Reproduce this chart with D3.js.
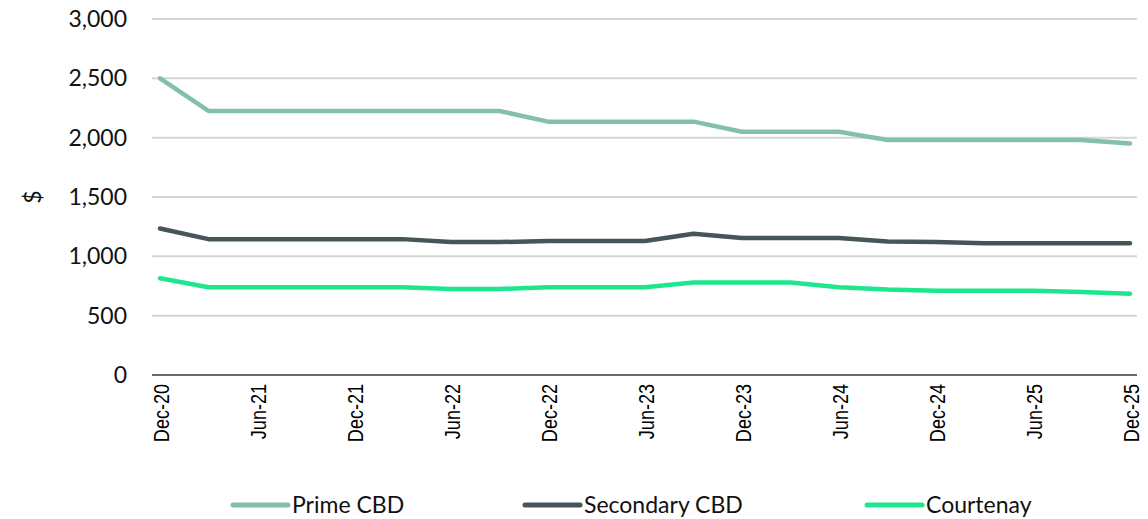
<!DOCTYPE html>
<html>
<head>
<meta charset="utf-8">
<script src="https://cdn.jsdelivr.net/npm/d3@7"></script>
<style>
  html, body { margin: 0; padding: 0; background: #ffffff; }
  svg { display: block; }
</style>
</head>
<body>
<svg id="chart" width="1148" height="519"></svg>
<script>
// Quarterly rents, Dec-20 to Dec-25
const quarters = ["Dec-20","Mar-21","Jun-21","Sep-21","Dec-21","Mar-22","Jun-22","Sep-22",
  "Dec-22","Mar-23","Jun-23","Sep-23","Dec-23","Mar-24","Jun-24","Sep-24",
  "Dec-24","Mar-25","Jun-25","Sep-25","Dec-25"];

const primeCBD = [2500,2225,2225,2225,2225,2225,2225,2225,2135,2135,2135,2135,
  2050,2050,2050,1980,1980,1980,1980,1980,1950];
const secondaryCBD = [1235,1145,1145,1145,1145,1145,1120,1120,1130,1130,1130,1190,
  1155,1155,1155,1125,1120,1110,1110,1110,1110];
const courtenay = [815,740,740,740,740,740,725,725,740,740,740,780,
  780,780,740,720,710,710,710,700,685];

const seriesNames = ["Prime CBD","Secondary CBD","Courtenay"];
const seriesColors = ["#84bfac","#45555a","#1ee68e"];
const yTicks = [0,500,1000,1500,2000,2500,3000];
const xTickLabels = ["Dec-20","Jun-21","Dec-21","Jun-22","Dec-22","Jun-23",
  "Dec-23","Jun-24","Dec-24","Jun-25","Dec-25"];
const yTitle = "$";

const series = [primeCBD, secondaryCBD, courtenay].map((v, i) => ({
  name: seriesNames[i], color: seriesColors[i], values: v
}));

const svg = d3.select("#chart");
const plot = { left: 152, right: 1137, top: 19, bottom: 375 };

const x = d3.scalePoint().domain(quarters).range([160, 1130]);
const y = d3.scaleLinear().domain([0, 3000]).range([plot.bottom, plot.top]);

// gridlines
svg.append("g")
  .selectAll("line")
  .data(yTicks.filter(d => d > 0))
  .join("line")
  .attr("x1", plot.left).attr("x2", plot.right)
  .attr("y1", d => y(d)).attr("y2", d => y(d))
  .attr("stroke", "#d4d7d9").attr("stroke-width", 2);

// y axis labels
const yAxis = svg.append("g")
  .attr("transform", `translate(${plot.left},0)`)
  .call(d3.axisLeft(y).tickValues(yTicks).tickFormat(d3.format(",")).tickSize(0).tickPadding(25));
yAxis.select(".domain").remove();
yAxis.selectAll("text")
  .attr("font-family", "Lato, 'Open Sans', sans-serif")
  .attr("font-size", 23)
  .attr("fill", "#111");

svg.append("text")
  .attr("transform", `translate(41,${y(1500)}) rotate(-90)`)
  .attr("text-anchor", "middle")
  .attr("font-family", "Lato, 'Open Sans', sans-serif")
  .attr("font-size", 23)
  .attr("fill", "#111")
  .text(yTitle);

// x axis
const xAxis = svg.append("g")
  .attr("transform", `translate(0,${plot.bottom})`)
  .call(d3.axisBottom(x).tickValues(xTickLabels).tickSize(0).tickPadding(0));
xAxis.select(".domain")
  .attr("d", `M${plot.left},0H${plot.right}`)
  .attr("stroke", "#5f6b6d").attr("stroke-width", 2);
xAxis.selectAll("text")
  .attr("font-family", "'Liberation Sans', Arial, sans-serif")
  .attr("font-size", 22)
  .attr("fill", "#000")
  .attr("text-anchor", "end")
  .attr("dy", null)
  .attr("y", 0)
  .attr("transform", "translate(8,9) rotate(-90) scale(0.82,1)");

// series lines
const line = d3.line()
  .x((d, i) => x(quarters[i]))
  .y(d => y(d));

svg.append("g")
  .selectAll("path")
  .data(series)
  .join("path")
  .attr("d", d => line(d.values))
  .attr("fill", "none")
  .attr("stroke", d => d.color)
  .attr("stroke-width", 4.5)
  .attr("stroke-linejoin", "round")
  .attr("stroke-linecap", "round");

// legend entries along the bottom
const legendX = [233, 525, 867];
const ly = 505;
const legend = svg.append("g");
series.forEach((s, i) => {
  const lx = legendX[i];
  const g = legend.append("g");
  g.append("line")
    .attr("x1", lx).attr("x2", lx + 55)
    .attr("y1", ly).attr("y2", ly)
    .attr("stroke", s.color).attr("stroke-width", 5).attr("stroke-linecap", "round");
  g.append("text")
    .attr("x", lx + 59).attr("y", ly)
    .attr("dy", "0.35em")
    .attr("font-family", "Lato, 'Open Sans', sans-serif")
    .attr("font-size", 23)
    .attr("fill", "#111")
    .text(s.name);
});
</script>
</body>
</html>
